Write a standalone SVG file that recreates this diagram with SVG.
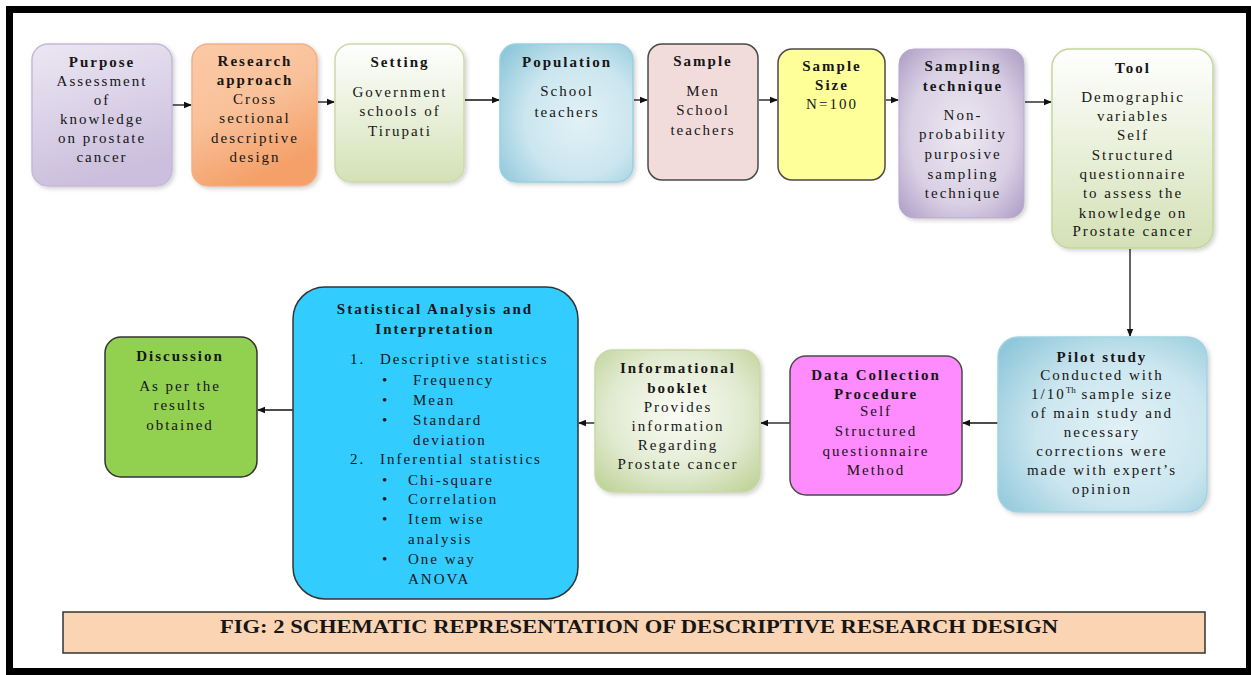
<svg xmlns="http://www.w3.org/2000/svg" width="1251" height="675" viewBox="0 0 1251 675">
<style>
text{font-family:'Liberation Serif',serif}
.t{font-family:'Liberation Serif',serif;font-size:15px;letter-spacing:2px;fill:#161616;text-anchor:middle}
.b{font-weight:bold}
.s{text-anchor:start}
.c{stroke:#111;stroke-width:1.3;fill:none;marker-end:url(#ah)}
.dk{stroke:#4a4a4a;stroke-width:1.5}
</style>
<defs>
<marker id="ah" markerWidth="8" markerHeight="8" refX="7" refY="4" orient="auto" markerUnits="userSpaceOnUse"><path d="M0,0.8 L8,4 L0,7.2 Z" fill="#111"/></marker>
<filter id="sh" x="-10%" y="-10%" width="125%" height="125%"><feDropShadow dx="2" dy="2" stdDeviation="2" flood-color="#000" flood-opacity="0.18"/></filter>
<linearGradient id="gPur" x1="0" y1="0" x2="0.3" y2="1"><stop offset="0" stop-color="#ece7f3"/><stop offset="1" stop-color="#cbbfdd"/></linearGradient>
<linearGradient id="gOr" x1="0" y1="0" x2="0.4" y2="1"><stop offset="0" stop-color="#fbcaa6"/><stop offset="0.5" stop-color="#f9c19a"/><stop offset="1" stop-color="#f4a068"/></linearGradient>
<linearGradient id="gGr" x1="0" y1="0" x2="0" y2="1"><stop offset="0" stop-color="#ffffff"/><stop offset="1" stop-color="#d4e1b6"/></linearGradient>
<radialGradient id="gBl" cx="0.6" cy="0.55" r="0.75"><stop offset="0" stop-color="#e2f1f6"/><stop offset="0.55" stop-color="#cbe6ef"/><stop offset="1" stop-color="#8ec7da"/></radialGradient>
<radialGradient id="gVi" cx="0.5" cy="0.5" r="0.7"><stop offset="0" stop-color="#ede8f2"/><stop offset="0.6" stop-color="#d9d0e4"/><stop offset="1" stop-color="#ad9cc4"/></radialGradient>
<radialGradient id="gOl" cx="0.5" cy="0.45" r="0.7"><stop offset="0" stop-color="#fbfcf6"/><stop offset="0.6" stop-color="#e1ead0"/><stop offset="1" stop-color="#bfd398"/></radialGradient>
</defs>
<rect x="0" y="0" width="1251" height="675" fill="#fff"/>
<rect x="9.5" y="9.5" width="1240" height="662" fill="none" stroke="#000" stroke-width="7"/>

<g id="connectors">
<line class="c" x1="172" y1="105" x2="191" y2="105"/>
<line class="c" x1="318" y1="102" x2="334" y2="102"/>
<line class="c" x1="465" y1="100" x2="499" y2="100"/>
<line class="c" x1="634" y1="100" x2="647" y2="100"/>
<line class="c" x1="759" y1="100" x2="777" y2="100"/>
<line class="c" x1="886" y1="100" x2="898" y2="100"/>
<line class="c" x1="1025" y1="102" x2="1051" y2="102"/>
<line class="c" x1="1130" y1="249" x2="1130" y2="336"/>
<line class="c" x1="998" y1="423" x2="963" y2="423"/>
<line class="c" x1="790" y1="423" x2="761" y2="423"/>
<line class="c" x1="595" y1="423" x2="579" y2="423"/>
<line class="c" x1="293" y1="410" x2="258" y2="410"/>
</g>

<g id="purpose">
<rect x="32" y="44" width="140" height="142" rx="16" fill="url(#gPur)" stroke="#c5b8d9" stroke-width="1.5" filter="url(#sh)"/>
<text class="t b" x="102" y="67">Purpose</text>
<text class="t" x="102" y="86">Assessment</text>
<text class="t" x="102" y="105">of</text>
<text class="t" x="102" y="124">knowledge</text>
<text class="t" x="102" y="143">on prostate</text>
<text class="t" x="102" y="162">cancer</text>
</g>

<g id="research">
<rect x="192" y="44" width="125" height="142" rx="16" fill="url(#gOr)" stroke="#f2b088" stroke-width="1.5" filter="url(#sh)"/>
<text class="t b" x="255" y="66">Research</text>
<text class="t b" x="255" y="85">approach</text>
<text class="t" x="255" y="104">Cross</text>
<text class="t" x="255" y="123">sectional</text>
<text class="t" x="255" y="143">descriptive</text>
<text class="t" x="255" y="162">design</text>
</g>

<g id="setting">
<rect x="335" y="44" width="129" height="138" rx="16" fill="url(#gGr)" stroke="#cbdaa8" stroke-width="1.5" filter="url(#sh)"/>
<text class="t b" x="400" y="67">Setting</text>
<text class="t" x="400" y="97">Government</text>
<text class="t" x="400" y="116">schools of</text>
<text class="t" x="400" y="136">Tirupati</text>
</g>

<g id="population">
<rect x="500" y="44" width="133" height="138" rx="16" fill="url(#gBl)" stroke="#9acfe0" stroke-width="1.5" filter="url(#sh)"/>
<text class="t b" x="567" y="67">Population</text>
<text class="t" x="567" y="96">School</text>
<text class="t" x="567" y="117">teachers</text>
</g>

<g id="sample">
<rect x="648" y="44" width="110" height="136" rx="14" fill="#f2dcdb" class="dk"/>
<text class="t b" x="703" y="66">Sample</text>
<text class="t" x="703" y="96">Men</text>
<text class="t" x="703" y="115">School</text>
<text class="t" x="703" y="135">teachers</text>
</g>

<g id="sample-size">
<rect x="778" y="49" width="107" height="131" rx="14" fill="#ffff99" class="dk"/>
<text class="t b" x="832" y="71">Sample</text>
<text class="t b" x="832" y="90">Size</text>
<text class="t" x="832" y="109">N=100</text>
</g>

<g id="sampling-technique">
<rect x="899" y="49" width="125" height="169" rx="15" fill="url(#gVi)" stroke="#b9aacd" stroke-width="1" filter="url(#sh)"/>
<text class="t b" x="963" y="71">Sampling</text>
<text class="t b" x="963" y="91">technique</text>
<text class="t" x="963" y="120">Non-</text>
<text class="t" x="963" y="139">probability</text>
<text class="t" x="963" y="159">purposive</text>
<text class="t" x="963" y="179">sampling</text>
<text class="t" x="963" y="198">technique</text>
</g>

<g id="tool">
<rect x="1052" y="49" width="161" height="199" rx="18" fill="url(#gGr)" stroke="#c3d69b" stroke-width="1.5" filter="url(#sh)"/>
<text class="t b" x="1133" y="73">Tool</text>
<text class="t" x="1133" y="102">Demographic</text>
<text class="t" x="1133" y="121">variables</text>
<text class="t" x="1133" y="140">Self</text>
<text class="t" x="1133" y="160">Structured</text>
<text class="t" x="1133" y="179">questionnaire</text>
<text class="t" x="1133" y="198">to assess the</text>
<text class="t" x="1133" y="218">knowledge on</text>
<text class="t" x="1133" y="236">Prostate cancer</text>
</g>

<g id="pilot">
<rect x="998" y="337" width="209" height="175" rx="20" fill="url(#gBl)" stroke="#a3d3e2" stroke-width="1.5" filter="url(#sh)"/>
<text class="t b" x="1102" y="362">Pilot study</text>
<text class="t" x="1102" y="380">Conducted with</text>
<text class="t" x="1102" y="399">1/10<tspan font-size="9" dy="-6" letter-spacing="0">Th</tspan><tspan dy="6"> sample size</tspan></text>
<text class="t" x="1102" y="418">of main study and</text>
<text class="t" x="1102" y="437">necessary</text>
<text class="t" x="1102" y="456">corrections were</text>
<text class="t" x="1102" y="475">made with expert’s</text>
<text class="t" x="1102" y="494">opinion</text>
</g>

<g id="data-collection">
<rect x="790" y="356" width="172" height="139" rx="16" fill="#ff8cff" class="dk"/>
<text class="t b" x="876" y="380">Data Collection</text>
<text class="t b" x="876" y="399">Procedure</text>
<text class="t" x="876" y="416">Self</text>
<text class="t" x="876" y="436">Structured</text>
<text class="t" x="876" y="456">questionnaire</text>
<text class="t" x="876" y="475">Method</text>
</g>

<g id="informational-booklet">
<rect x="595" y="350" width="165" height="142" rx="18" fill="url(#gOl)" stroke="#c8d9a6" stroke-width="1.5" filter="url(#sh)"/>
<text class="t b" x="678" y="373">Informational</text>
<text class="t b" x="678" y="393">booklet</text>
<text class="t" x="678" y="412">Provides</text>
<text class="t" x="678" y="431">information</text>
<text class="t" x="678" y="450">Regarding</text>
<text class="t" x="678" y="469">Prostate cancer</text>
</g>

<g id="statistical-analysis">
<rect x="293" y="287" width="285" height="312" rx="32" fill="#33ccff" stroke="#333" stroke-width="1.5"/>
<text class="t b" x="435" y="314">Statistical Analysis and</text>
<text class="t b" x="435" y="334">Interpretation</text>
<text class="t s" x="350" y="364">1.</text>
<text class="t s" x="380" y="364">Descriptive statistics</text>
<text class="t s" x="382" y="385">•</text><text class="t s" x="413" y="385">Frequency</text>
<text class="t s" x="382" y="405">•</text><text class="t s" x="413" y="405">Mean</text>
<text class="t s" x="382" y="425">•</text><text class="t s" x="413" y="425">Standard</text>
<text class="t s" x="413" y="445">deviation</text>
<text class="t s" x="350" y="464">2.</text>
<text class="t s" x="380" y="464">Inferential statistics</text>
<text class="t s" x="382" y="485">•</text><text class="t s" x="408" y="485">Chi-square</text>
<text class="t s" x="382" y="504">•</text><text class="t s" x="408" y="504">Correlation</text>
<text class="t s" x="382" y="524">•</text><text class="t s" x="408" y="524">Item wise</text>
<text class="t s" x="408" y="544">analysis</text>
<text class="t s" x="382" y="564">•</text><text class="t s" x="408" y="564">One way</text>
<text class="t s" x="408" y="584">ANOVA</text>
</g>

<g id="discussion">
<rect x="105" y="337" width="152" height="140" rx="16" fill="#92d050" stroke="#333" stroke-width="1.5"/>
<text class="t b" x="180" y="361">Discussion</text>
<text class="t" x="180" y="391">As per the</text>
<text class="t" x="180" y="410">results</text>
<text class="t" x="180" y="430">obtained</text>
</g>

<g id="caption">
<rect x="63" y="612" width="1142" height="41" fill="#fbd4b4" stroke="#333" stroke-width="1.5"/>
<text x="639" y="633" font-family="'Liberation Serif',serif" font-size="18" font-weight="bold" fill="#161616" text-anchor="middle" textLength="838" lengthAdjust="spacingAndGlyphs">FIG: 2 SCHEMATIC REPRESENTATION OF DESCRIPTIVE  RESEARCH DESIGN</text>
</g>
</svg>
